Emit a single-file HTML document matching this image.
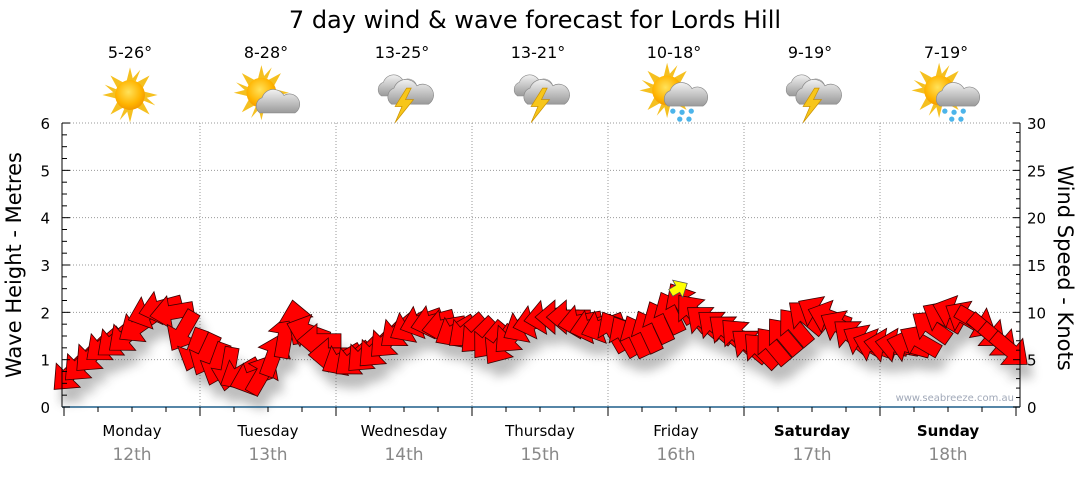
<!DOCTYPE html>
<html><head><meta charset="utf-8">
<style>
html,body{margin:0;padding:0;background:#fff;}
body{width:1080px;height:475px;overflow:hidden;font-family:"DejaVu Sans","Liberation Sans",sans-serif;}
svg text{font-family:"DejaVu Sans","Liberation Sans",sans-serif;}
</style></head>
<body>
<svg id="chart" width="1080" height="475" viewBox="0 0 1080 475" xmlns="http://www.w3.org/2000/svg">
<defs>
  <radialGradient id="sunG" cx="45%" cy="40%" r="60%"><stop offset="0" stop-color="#ffe25a"/><stop offset="0.7" stop-color="#ffb400"/><stop offset="1" stop-color="#f39a00"/></radialGradient>
  <linearGradient id="cloudG" x1="0" y1="0" x2="0" y2="1"><stop offset="0" stop-color="#f2f2f2"/><stop offset="1" stop-color="#9a9a9a"/></linearGradient>
  <filter id="shadow" x="-20%" y="-20%" width="140%" height="160%"><feGaussianBlur stdDeviation="5"/></filter>
  <g id="sun"><g fill="#f5c020"><polygon points="0,-24 3,-12 -3,-12"/><polygon points="0,24 3,12 -3,12"/><polygon points="-24,0 -12,3 -12,-3"/><polygon points="24,0 12,3 12,-3"/><polygon points="17,-17 6,-11 11,-6"/><polygon points="-17,-17 -6,-11 -11,-6"/><polygon points="17,17 6,11 11,6"/><polygon points="-17,17 -6,11 -11,6"/><polygon points="9,-22 5,-12 1,-13"/><polygon points="-9,22 -5,12 -1,13"/><polygon points="22,9 12,5 13,1"/><polygon points="-22,-9 -12,-5 -13,-1"/></g><circle r="13" fill="url(#sunG)"/></g>
  <g id="cloud"><path d="M-14,8 a8,8 0 0 1 2,-14 a11,11 0 0 1 20,-2 a9,9 0 0 1 10,16 z" fill="url(#cloudG)" stroke="#8a8a8a" stroke-width="0.6"/></g>
  <g id="storm"><use href="#cloud" transform="translate(-6,-6) scale(0.85)"/><use href="#cloud" transform="translate(5,0)"/><polygon points="4,-6 -6,10 0,10 -6,24 10,4 3,4 8,-6" fill="#f7c61a" stroke="#c99000" stroke-width="0.6"/></g>
  <g id="rain"><circle cx="-4" cy="14" r="2.3" fill="#4cb4ea"/><circle cx="4" cy="15" r="2.3" fill="#4cb4ea"/><circle cx="12" cy="14" r="2.3" fill="#4cb4ea"/><circle cx="2" cy="21" r="2.3" fill="#4cb4ea"/><circle cx="10" cy="21" r="2.3" fill="#4cb4ea"/></g>
</defs>
<text x="535" y="28" font-size="24" text-anchor="middle" fill="#000">7 day wind &amp; wave forecast for Lords Hill</text>
<g id="grid"></g>
<g id="shadows" filter="url(#shadow)" opacity="0.35"></g>
<g id="arrows"></g>
<g id="axes"></g>
<text transform="translate(21,265) rotate(-90)" font-size="21" text-anchor="middle">Wave Height - Metres</text>
<text transform="translate(1058,268) rotate(90)" font-size="21" text-anchor="middle">Wind Speed - Knots</text>
<text x="1014" y="401" font-size="10" text-anchor="end" fill="#a0a8b8">www.seabreeze.com.au</text>
</svg>
<script>
const days = ["Monday","Tuesday","Wednesday","Thursday","Friday","Saturday","Sunday"];
const dates = ["12th","13th","14th","15th","16th","17th","18th"];
const boldDays = [false,false,false,false,false,true,true];
const temps = ["5-26°","8-28°","13-25°","13-21°","10-18°","9-19°","7-19°"];
const icons = ["sun","suncloud","storm","storm","sunrain","storm","sunrain"];
const leftTicks = [0,1,2,3,4,5,6];
const rightTicks = [0,5,10,15,20,25,30];
// wind speed (knots), 2-hourly
const windSpeed = [3.5,4.5,5.5,6.5,7,7.5,8.5,10,10.5,10,8,6,
  5.5,4.5,4,3.5,3,3.5,5.5,7.5,9,8,7,5.5,
  5,5,5.5,6,7,8,8.5,9,9,8.5,8,8,
  7.5,7,6.5,7.5,8.5,9,9.5,9.5,9.5,9,8.5,8.5,
  8,7.5,7.5,8,9,10,11,10,9,8.5,8,7.5,
  6.5,6,6.5,7.5,8.5,9.5,10,9.5,8.5,7.5,7,6.5,
  6.5,6.5,6.5,7,8.5,9.5,10,9.5,9,8,7,6];
// arrow pointing angle (deg, screen, 0=right, 90=down)
const windDir = [135,135,135,140,140,140,145,160,165,170,120,110,
  115,110,100,150,160,-60,-70,-80,-100,-160,180,180,
  150,140,135,135,135,140,150,160,165,170,150,140,
  135,130,125,135,150,165,170,180,180,170,165,160,
  -120,-120,-115,-115,-115,-115,-120,-130,-140,-140,-140,-135,
  -140,-135,-130,-130,-130,-140,-150,-160,-150,-140,-150,-160,
  -170,-170,-165,-150,-145,-150,-160,-150,30,40,40,40];

const NS="http://www.w3.org/2000/svg";
const X0=64, X1=1016, DAYW=(X1-X0)/7, Y0=407, PXM=47.33;
const yM = m => Y0 - m*PXM;
const yK = k => Y0 - k*PXM/5;
const xIdx = i => X0 + (i+0.5)*DAYW/12;
function mk(tag, attrs, parent){const e=document.createElementNS(NS,tag);for(const k in attrs)e.setAttribute(k,attrs[k]);parent.appendChild(e);return e;}
const svg=document.getElementById('chart');
const grid=document.getElementById('grid'), axes=document.getElementById('axes');
leftTicks.forEach(v=>{ if(v>0){const l=mk('line',{x1:X0,x2:1020,y1:yM(v),y2:yM(v),stroke:'#999','stroke-dasharray':'1,2'},grid);

}});
for(let d=1;d<7;d++){const l=mk('line',{x1:X0+d*DAYW,x2:X0+d*DAYW,y1:123,y2:Y0,stroke:'#999','stroke-dasharray':'1,2'},grid);

}
mk('line',{x1:62,x2:62,y1:123,y2:Y0,stroke:'#000'},axes);
mk('line',{x1:1020,x2:1020,y1:123,y2:Y0,stroke:'#000'},axes);
const xa=mk('line',{x1:62,x2:1020,y1:Y0,y2:Y0,stroke:'#1f5f8a','stroke-width':1.5},axes);


for(let i=0;i<=24;i++){const m=i*0.25;mk('line',{x1:62,x2:i%4==0?70:67,y1:yM(m),y2:yM(m),stroke:'#000'},axes);}
for(let k=0;k<=30;k++){mk('line',{x1:1020,x2:k%5==0?1013:1016,y1:yK(k),y2:yK(k),stroke:'#000'},axes);}
leftTicks.forEach(v=>{const t=mk('text',{x:50,y:yM(v)+6,'font-size':15,'text-anchor':'end'},axes);t.textContent=v;

});
rightTicks.forEach(v=>{const t=mk('text',{x:1027,y:yK(v)+6,'font-size':15},axes);t.textContent=v;

});
for(let d=0;d<=28;d++){const x=X0+d*DAYW/4;mk('line',{x1:x,x2:x,y1:Y0,y2:Y0+(d%4==0?9:5),stroke:'#000'},axes);}
days.forEach((n,d)=>{const cx=X0+(d+0.5)*DAYW;
 const t=mk('text',{x:cx,y:436,'font-size':15,'text-anchor':'middle','font-weight':boldDays[d]?'bold':'normal'},axes);t.textContent=n;
 
 
 const t2=mk('text',{x:cx,y:460,'font-size':17,'text-anchor':'middle',fill:'#888'},axes);t2.textContent=dates[d];
 
 
 const t3=mk('text',{x:cx-2,y:58,'font-size':16,'text-anchor':'middle'},svg);t3.textContent=temps[d];
 
 
 const g=mk('g',{transform:`translate(${cx-2},95) scale(1.15)`},svg);
 
 
 const ic=icons[d];
 if(ic=='sun'){mk('use',{href:'#sun'},g);}
 else if(ic=='suncloud'){mk('use',{href:'#sun',transform:'translate(-4,-2)'},g);mk('use',{href:'#cloud',transform:'translate(8,8) scale(0.95)'},g);}
 else if(ic=='storm'){mk('use',{href:'#storm'},g);}
 else {mk('use',{href:'#sun',transform:'translate(-6,-4)'},g);mk('use',{href:'#cloud',transform:'translate(8,2) scale(0.95)'},g);mk('use',{href:'#rain',transform:'translate(3,0)'},g);}
});
const arrowPts="-22,-7 2,-7 2,-17 22,0 2,17 2,7 -22,7";
const ag=document.getElementById('arrows'), sg=document.getElementById('shadows');
let maxI=0; windSpeed.forEach((v,i)=>{if(v>windSpeed[maxI])maxI=i;});
windSpeed.forEach((v,i)=>{
 const x=xIdx(i), y=yK(v), a=windDir[i];
 mk('polygon',{points:arrowPts,transform:`translate(${x+6},${y+14}) rotate(${a})`,fill:'#444'},sg);
 const p=mk('polygon',{points:arrowPts,transform:`translate(${x},${y}) rotate(${a})`,fill:'#ff0000',stroke:'#3a0000','stroke-width':0.8},ag);
 
 
});
const ya=mk('polygon',{points:"-8,-4 0,-4 0,-10 11,0 0,10 0,4 -8,4",transform:`translate(${xIdx(maxI)-4},${yK(windSpeed[maxI])-14}) rotate(${windDir[maxI]+90})`,fill:'#ffff00',stroke:'#555','stroke-width':0.8},ag);


</script>
</body></html>
